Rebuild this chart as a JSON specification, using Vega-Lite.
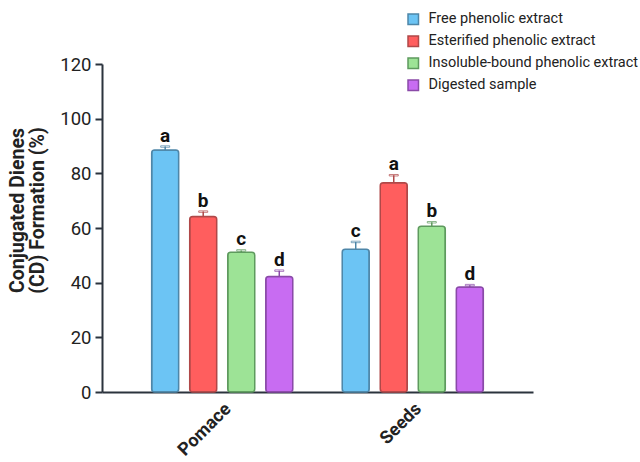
{
  "$schema": "https://vega.github.io/schema/vega-lite/v6.json",
  "autosize": {"type": "none"},
  "width": 431,
  "height": 328,
  "padding": {"left": 102, "top": 64, "right": 107, "bottom": 70},
  "background": "white",
  "config": {
    "view": {"stroke": null},
    "font": "Roboto",
    "axis": {"domainColor": "#2B333D", "domainWidth": 2, "grid": false, "labelFont": "Roboto", "titleFont": "Roboto", "labelColor": "#222222", "titleColor": "#222222", "tickColor": "#2B333D", "tickWidth": 2}
  },
  "data": {"values": [
    {"group": "Pomace", "series": "Free phenolic extract", "value": 88.5, "upper": 89.8, "letter": "a"},
    {"group": "Pomace", "series": "Esterified phenolic extract", "value": 64.2, "upper": 66.0, "letter": "b"},
    {"group": "Pomace", "series": "Insoluble-bound phenolic extract", "value": 51.1, "upper": 51.8, "letter": "c"},
    {"group": "Pomace", "series": "Digested sample", "value": 42.3, "upper": 44.4, "letter": "d"},
    {"group": "Seeds", "series": "Free phenolic extract", "value": 52.2, "upper": 54.9, "letter": "c"},
    {"group": "Seeds", "series": "Esterified phenolic extract", "value": 76.6, "upper": 79.3, "letter": "a"},
    {"group": "Seeds", "series": "Insoluble-bound phenolic extract", "value": 60.6, "upper": 62.1, "letter": "b"},
    {"group": "Seeds", "series": "Digested sample", "value": 38.4, "upper": 39.1, "letter": "d"}
  ]},
  "encoding": {
    "x": {"field": "group", "type": "nominal", "sort": null,
      "scale": {"paddingInner": 0, "paddingOuter": 0.131},
      "axis": {"title": null, "ticks": false, "labelAngle": -45, "labelFontSize": 18, "labelFontWeight": "bold", "labelAlign": "right", "labelBaseline": "middle", "labelPadding": 14, "labelOffset": 6}},
    "xOffset": {"field": "series", "type": "nominal", "sort": null,
      "scale": {"domain": ["Free phenolic extract", "Esterified phenolic extract", "Insoluble-bound phenolic extract", "Digested sample"], "paddingInner": 0.29, "paddingOuter": 0.65}}
  },
  "layer": [
    {
      "mark": {"type": "bar", "cornerRadius": 3, "strokeWidth": 1.5},
      "encoding": {
        "y": {"field": "value", "type": "quantitative",
          "scale": {"domain": [0, 120]},
          "axis": {"values": [0, 20, 40, 60, 80, 100, 120], "tickSize": 7, "labelFontSize": 18.5, "labelPadding": 4, "title": ["Conjugated Dienes", "(CD) Formation (%)"], "titleFontSize": 19.5, "titleFontWeight": "bold", "titleLineHeight": 20, "titlePadding": 12, "titleY": 146}},
        "fill": {"field": "series", "type": "nominal",
          "scale": {"domain": ["Free phenolic extract", "Esterified phenolic extract", "Insoluble-bound phenolic extract", "Digested sample"], "range": ["#6CC4F4", "#FF5E5E", "#9DE396", "#C86CF2"]},
          "legend": {"title": null, "orient": "none", "legendX": 304, "legendY": -52, "symbolType": "square", "symbolSize": 110, "symbolStrokeWidth": 1.5, "labelFontSize": 14.5, "labelLimit": 400, "labelColor": "#222222", "labelOffset": 8, "rowPadding": 5}},
        "stroke": {"field": "series", "type": "nominal",
          "scale": {"domain": ["Free phenolic extract", "Esterified phenolic extract", "Insoluble-bound phenolic extract", "Digested sample"], "range": ["#4E86A8", "#B04848", "#5E9A5E", "#8A4AA8"]},
          "legend": {"title": null, "orient": "none", "legendX": 304, "legendY": -52, "symbolType": "square", "symbolSize": 110, "symbolStrokeWidth": 1.5, "labelFontSize": 14.5, "labelLimit": 400, "labelColor": "#222222", "labelOffset": 8, "rowPadding": 5}}
      }
    },
    {
      "mark": {"type": "rule", "strokeWidth": 1.5},
      "encoding": {
        "y": {"field": "value", "type": "quantitative"},
        "y2": {"field": "upper"},
        "stroke": {"field": "series", "type": "nominal"}
      }
    },
    {
      "mark": {"type": "tick", "orient": "horizontal", "size": 9, "thickness": 1.5},
      "encoding": {
        "y": {"field": "upper", "type": "quantitative"},
        "color": {"value": null},
        "stroke": {"field": "series", "type": "nominal"}
      }
    },
    {
      "mark": {"type": "text", "fontSize": 19, "fontWeight": "bold", "baseline": "alphabetic", "dy": -5, "color": "#111111"},
      "encoding": {
        "y": {"field": "upper", "type": "quantitative"},
        "text": {"field": "letter"}
      }
    }
  ]
}
